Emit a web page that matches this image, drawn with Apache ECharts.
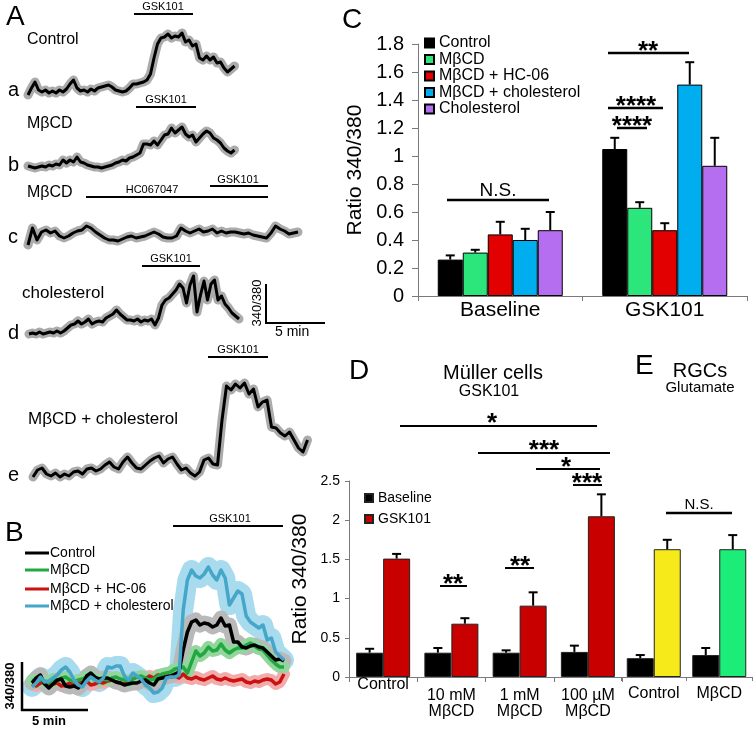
<!DOCTYPE html>
<html><head><meta charset="utf-8">
<script src="https://cdn.jsdelivr.net/npm/echarts@6/dist/echarts.min.js"></script>
<style>html,body{margin:0;padding:0;background:#fff}#c{width:755px;height:732px}</style>
</head><body><div id="c"></div>
<script>
// ---------- Panel A: single-cell traces (ratio 340/380, uniform sampling) ----------
const traceA_control = [0.20,0.27,0.33,0.25,0.23,0.25,0.22,0.24,0.22,0.25,0.23,0.26,0.31,0.35,0.27,0.24,0.25,0.23,0.26,0.24,0.27,0.28,0.29,0.30,0.28,0.25,0.24,0.23,0.24,0.27,0.31,0.31,0.32,0.33,0.35,0.41,0.57,0.71,0.77,0.78,0.81,0.77,0.79,0.78,0.82,0.73,0.75,0.69,0.71,0.57,0.55,0.59,0.55,0.58,0.52,0.53,0.47,0.43,0.46,0.49];
const traceA_mbcd = [0.24,0.23,0.22,0.23,0.24,0.23,0.25,0.24,0.26,0.25,0.30,0.27,0.30,0.28,0.33,0.28,0.27,0.25,0.24,0.23,0.23,0.22,0.23,0.24,0.25,0.27,0.28,0.30,0.29,0.32,0.33,0.35,0.37,0.46,0.46,0.45,0.49,0.45,0.50,0.55,0.56,0.62,0.57,0.60,0.63,0.56,0.53,0.55,0.48,0.52,0.56,0.59,0.57,0.52,0.50,0.47,0.42,0.39,0.37,0.40];
const traceA_mbcdHC = [0.25,0.42,0.30,0.38,0.40,0.37,0.39,0.34,0.32,0.34,0.37,0.39,0.40,0.44,0.42,0.38,0.35,0.32,0.30,0.30,0.29,0.31,0.33,0.34,0.32,0.33,0.34,0.36,0.38,0.36,0.33,0.32,0.32,0.34,0.42,0.39,0.37,0.39,0.41,0.38,0.39,0.41,0.37,0.39,0.37,0.38,0.38,0.37,0.36,0.37,0.35,0.34,0.33,0.32,0.37,0.44,0.41,0.39,0.36,0.37,0.38];
const traceA_chol = [0.26,0.27,0.26,0.28,0.26,0.27,0.28,0.27,0.29,0.27,0.29,0.32,0.35,0.36,0.39,0.36,0.38,0.41,0.36,0.38,0.39,0.38,0.42,0.44,0.46,0.50,0.46,0.43,0.40,0.40,0.39,0.41,0.38,0.40,0.39,0.41,0.35,0.42,0.55,0.60,0.62,0.66,0.70,0.76,0.72,0.57,0.75,0.84,0.48,0.65,0.79,0.60,0.76,0.80,0.60,0.64,0.56,0.52,0.47,0.44,0.41];
const traceA_mbcdChol = [0.23,0.30,0.32,0.26,0.24,0.27,0.23,0.26,0.24,0.28,0.29,0.26,0.31,0.32,0.29,0.31,0.35,0.38,0.33,0.31,0.38,0.43,0.37,0.32,0.31,0.35,0.39,0.42,0.44,0.37,0.41,0.43,0.36,0.30,0.32,0.27,0.24,0.28,0.40,0.42,0.36,0.35,0.80,1.14,1.10,1.16,1.12,1.17,1.06,1.11,0.93,0.98,1.00,0.73,0.72,0.67,0.64,0.68,0.60,0.52,0.48,0.60];

// ---------- Panel B: averaged traces ----------
const traceB_names = ['Control','MβCD','MβCD + HC-06','MβCD + cholesterol'];
const traceB_control = [0.37,0.42,0.45,0.36,0.32,0.36,0.40,0.41,0.34,0.33,0.34,0.32,0.36,0.44,0.47,0.43,0.41,0.42,0.42,0.40,0.38,0.37,0.35,0.36,0.37,0.37,0.39,0.40,0.37,0.35,0.41,0.42,0.43,0.44,0.46,0.48,0.70,0.88,0.98,1.00,0.95,0.97,0.96,0.93,0.95,1.02,0.94,0.95,0.78,0.78,0.73,0.72,0.74,0.75,0.73,0.72,0.68,0.64,0.60,0.61,0.59];
const traceB_mbcd = [0.40,0.38,0.40,0.39,0.37,0.41,0.39,0.42,0.43,0.40,0.38,0.40,0.41,0.43,0.44,0.40,0.39,0.41,0.40,0.42,0.43,0.41,0.40,0.39,0.41,0.43,0.44,0.42,0.40,0.41,0.44,0.46,0.47,0.48,0.51,0.52,0.53,0.47,0.58,0.69,0.64,0.67,0.73,0.69,0.70,0.76,0.70,0.67,0.70,0.72,0.72,0.75,0.77,0.74,0.71,0.70,0.65,0.60,0.56,0.53,0.53];
const traceB_hc = [0.36,0.34,0.37,0.38,0.35,0.36,0.37,0.34,0.35,0.37,0.36,0.38,0.37,0.39,0.35,0.36,0.38,0.37,0.39,0.40,0.38,0.37,0.36,0.39,0.41,0.43,0.42,0.41,0.44,0.42,0.45,0.44,0.45,0.43,0.44,0.42,0.46,0.42,0.41,0.43,0.41,0.40,0.42,0.44,0.41,0.40,0.42,0.40,0.39,0.40,0.41,0.38,0.37,0.39,0.38,0.40,0.41,0.40,0.36,0.38,0.46];
const traceB_chol = [0.33,0.37,0.43,0.38,0.39,0.42,0.45,0.50,0.53,0.48,0.40,0.35,0.33,0.39,0.43,0.40,0.38,0.42,0.53,0.52,0.54,0.54,0.44,0.40,0.47,0.44,0.41,0.35,0.32,0.27,0.28,0.32,0.42,0.43,0.43,0.45,1.10,1.40,1.50,1.44,1.42,1.46,1.53,1.45,1.40,1.50,1.42,1.15,1.22,1.29,1.26,1.04,0.98,0.95,0.92,0.95,0.80,0.82,0.68,0.64,0.60];

// ---------- Panel C ----------
const cCategories = ['Baseline','GSK101'];
const cNames = ['Control','MβCD','MβCD + HC-06','MβCD + cholesterol','Cholesterol'];
const cControl = [0.26,1.05], cControlErr = [0.03,0.08];
const cMbcd = [0.31,0.63], cMbcdErr = [0.02,0.04];
const cMbcdHC = [0.44,0.47], cMbcdHCErr = [0.09,0.05];
const cMbcdChol = [0.40,1.51], cMbcdCholErr = [0.08,0.16];
const cChol = [0.47,0.93], cCholErr = [0.13,0.20];

// ---------- Panel D ----------
const dCategories = ['Control','10 mM\nMβCD','1 mM\nMβCD','100 µM\nMβCD'];
const dNames = ['Baseline','GSK101'];
const dBaseline = [0.31,0.31,0.31,0.32], dBaselineErr = [0.05,0.06,0.03,0.08];
const dGSK = [1.51,0.68,0.91,2.05], dGSKErr = [0.06,0.07,0.17,0.28];

// ---------- Panel E ----------
const eCategories = ['Control','MβCD'];
const eBaseline = [0.24,0.28], eBaselineErr = [0.04,0.09];
const eGlutamate = [1.63,1.63], eGlutamateErr = [0.12,0.18];

const FONT = '"Liberation Sans", Arial, Helvetica, sans-serif';
const grids = [], xAxes = [], yAxes = [], series = [];
function addGrid(g, x, y){
  g.outerBoundsMode = 'none';
  grids.push(g);
  const gi = grids.length - 1;
  xAxes.push(Object.assign({gridIndex: gi}, x));
  yAxes.push(Object.assign({gridIndex: gi}, y));
  return gi;
}
function traceGrid(left, width, top, height, n, ymax){
  return addGrid({left, top, width, height},
    {type:'value', min:0, max:n-1, show:false},
    {type:'value', min:0, max:ymax, show:false});
}
function addBand(gi, name, values, band, bw, z){
  series.push({type:'line', name: name + ' SEM', xAxisIndex:gi, yAxisIndex:gi, data: values.map((v,i)=>[i,v]),
    symbol:'none', clip:false, silent:true, z, lineStyle:{color:band, width:bw, join:'round', cap:'round'}});
}
function addLine(gi, name, values, color, lw, z){
  series.push({type:'line', name, xAxisIndex:gi, yAxisIndex:gi, data: values.map((v,i)=>[i,v]),
    symbol:'none', clip:false, silent:true, z, lineStyle:{color, width:lw, join:'round'}});
}

// Panel A grids
const AGRAY = '#ababab';
[[traceA_control, 28, 206.5, 15, 100, 1],
 [traceA_mbcd, 28, 206.5, 90, 100, 1],
 [traceA_mbcdHC, 28, 270, 170, 100, 1],
 [traceA_chol, 29, 210, 260, 100, 1],
 [traceA_mbcdChol, 33, 274.5, 350, 150, 1.5]].forEach((t, k) => {
  const gi = traceGrid(t[1], t[2], t[3], t[4], t[0].length, t[5]);
  addBand(gi, 'A' + k, t[0], AGRAY, 9, 2);
  addLine(gi, 'A' + k, t[0], '#000', 3, 3);
});

// Panel B grid
const bColors = ['#000000','#22a840','#cc1111','#45a6c9'];
const bBands = ['#b9b9b9','#92d69e','#f2abab','#a8dbee'];
const bData = [traceB_control, traceB_mbcd, traceB_hc, traceB_chol];
const gB = traceGrid(32, 252, 560, 160, traceB_control.length, 1.6);
[3,2,0,1].forEach(k => addBand(gB, 'B ' + traceB_names[k], bData[k], bBands[k], k===3?20:(k===0?15:12), 2));
[2,1,0,3].forEach(k => addLine(gB, 'B ' + traceB_names[k], bData[k], bColors[k], 3.5, 3));

// Bar helpers
const axisCol = '#7a7a7a';
function errSeries(gi, vals, errs, offset, name){
  series.push({type:'custom', name, xAxisIndex:gi, yAxisIndex:gi, z:6, silent:true, clip:false,
    data: vals.map((v,i)=>[i, v, errs[i]]),
    renderItem: (p, api) => {
      const c = api.value(0), v = api.value(1), e = api.value(2);
      const b = api.coord([c, v]), t = api.coord([c, v + e]);
      const x = b[0] + offset;
      return {type:'group', children:[
        {type:'line', shape:{x1:x, y1:b[1], x2:x, y2:t[1]}, style:{stroke:'#000', lineWidth:2}},
        {type:'line', shape:{x1:x-4.5, y1:t[1], x2:x+4.5, y2:t[1]}, style:{stroke:'#000', lineWidth:2}}
      ]};
    }});
}

// Panel C
const gC = addGrid({left:418, top:44, width:329, height:252},
  {type:'category', data:cCategories,
   axisLine:{show:true, lineStyle:{color:axisCol}}, axisTick:{show:true, length:5, lineStyle:{color:axisCol}},
   axisLabel:{fontSize:21, color:'#000', margin:4, fontFamily:FONT, interval:0}},
  {type:'value', min:0, max:1.8, interval:0.2,
   axisLine:{show:true, lineStyle:{color:axisCol}}, axisTick:{show:true, length:6, lineStyle:{color:axisCol}},
   splitLine:{show:false}, axisLabel:{fontSize:20, color:'#000', margin:14, fontFamily:FONT},
   name:'Ratio 340/380', nameLocation:'middle', nameGap:52, nameRotate:90,
   nameTextStyle:{fontSize:21, color:'#000', fontFamily:FONT}});
const cColors = ['#000000','#2ce67c','#e20000','#00aeef','#b56ef0'];
const cVals = [cControl, cMbcd, cMbcdHC, cMbcdChol, cChol];
const cErrs = [cControlErr, cMbcdErr, cMbcdHCErr, cMbcdCholErr, cCholErr];
cVals.forEach((vals, k) => {
  series.push({type:'bar', name:cNames[k], xAxisIndex:gC, yAxisIndex:gC, data:vals, barWidth:25, barGap:'0%', z:4,
    itemStyle:{color:cColors[k], borderColor:'#000', borderWidth:1}});
});
cVals.forEach((vals, k) => errSeries(gC, vals, cErrs[k], (k-2)*25, 'err ' + cNames[k]));

// Panel D
const gD = addGrid({left:349, top:481, width:273, height:196},
  {type:'category', data:dCategories,
   axisLine:{show:true, lineStyle:{color:axisCol}}, axisTick:{show:true, length:5, lineStyle:{color:axisCol}},
   axisLabel:{margin:0, interval:0, color:'#000', fontFamily:FONT,
     formatter: v => v.indexOf('\n') >= 0 ? '{s| }\n{b|' + v.split('\n').join('}\n{b|') + '}' : '{b|' + v + '}',
     rich:{s:{fontSize:1, lineHeight:11}, b:{fontSize:16, lineHeight:16, color:'#000', fontFamily:FONT}}}},
  {type:'value', min:0, max:2.5, interval:0.5,
   axisLine:{show:true, lineStyle:{color:axisCol}}, axisTick:{show:true, length:4, lineStyle:{color:axisCol}},
   splitLine:{show:false}, axisLabel:{fontSize:14, color:'#000', margin:9, fontFamily:FONT},
   name:'Ratio 340/380', nameLocation:'middle', nameGap:38, nameRotate:90,
   nameTextStyle:{fontSize:21, color:'#000', fontFamily:FONT}});
const dColors = ['#000000','#c80000'];
[dBaseline, dGSK].forEach((vals, k) => {
  series.push({type:'bar', name:dNames[k], xAxisIndex:gD, yAxisIndex:gD, data:vals, barWidth:27, barGap:'0%', z:4,
    itemStyle:{color:dColors[k], borderColor:'#222', borderWidth:1}});
});
errSeries(gD, dBaseline, dBaselineErr, -13.5, 'err D baseline');
errSeries(gD, dGSK, dGSKErr, 13.5, 'err D GSK101');

// Panel E
const gE = addGrid({left:621, top:481, width:131, height:196},
  {type:'category', data:eCategories,
   axisLine:{show:true, lineStyle:{color:axisCol}}, axisTick:{show:true, length:4, lineStyle:{color:axisCol}},
   axisLabel:{fontSize:16, color:'#000', margin:9, interval:0, fontFamily:FONT}},
  {type:'value', min:0, max:2.5, show:false});
const eColors = ['#f7ea1b','#1ced78'];
series.push({type:'bar', name:'RGC baseline', xAxisIndex:gE, yAxisIndex:gE, data:eBaseline, barWidth:27, barGap:'0%', z:4,
  itemStyle:{color:'#000', borderColor:'#222', borderWidth:1}});
series.push({type:'bar', name:'RGC glutamate', xAxisIndex:gE, yAxisIndex:gE, barWidth:27, barGap:'0%', z:4,
  data: eGlutamate.map((v,i)=>({value:v, itemStyle:{color:eColors[i]}})),
  itemStyle:{borderColor:'#222', borderWidth:1}});
errSeries(gE, eBaseline, eBaselineErr, -13.5, 'err E baseline');
errSeries(gE, eGlutamate, eGlutamateErr, 13.5, 'err E glutamate');

// ---------- annotations ----------
function T(x, y, text, size, o){
  o = o || {};
  const al = o.align || 'left';
  return {type:'text', x, y, rotation:o.rot || 0, silent:true, z:100,
    style:{text, x:0, y:0, fill:o.color || '#000', font:(o.bold ? 'bold ' : '') + size + 'px ' + FONT,
      align:al, verticalAlign:'middle', textAlign:al, textVerticalAlign:'middle'}};
}
function L(x1, y1, x2, y2, w, c){
  return {type:'line', silent:true, z:100, shape:{x1, y1, x2, y2}, style:{stroke:c || '#000', lineWidth:w || 2}};
}
function stars(cx, cy, s){ return T(cx, cy + 6, s, 26, {align:'center', bold:true}); }
const g = [];
// panel letters
g.push(T(6, 17, 'A', 28), T(5, 533, 'B', 28), T(342, 20, 'C', 28), T(349, 371, 'D', 28), T(635, 366, 'E', 28));
// Panel A labels
g.push(T(27, 40, 'Control', 16), T(8, 90, 'a', 20));
g.push(T(27, 124, 'MβCD', 16), T(8, 165, 'b', 20));
g.push(T(27, 193, 'MβCD', 16), T(8, 237, 'c', 20));
g.push(T(22, 293, 'cholesterol', 17), T(8, 333, 'd', 20));
g.push(T(28, 419, 'MβCD + cholesterol', 17), T(8, 475, 'e', 20));
// drug application bars
g.push(L(134, 14, 193, 14), T(163, 7, 'GSK101', 11, {align:'center'}));
g.push(L(136, 107, 196, 107), T(166, 100, 'GSK101', 11, {align:'center'}));
g.push(L(86, 197, 268, 197), T(152, 190, 'HC067047', 11, {align:'center'}));
g.push(L(210, 186, 268, 186), T(238, 180, 'GSK101', 11, {align:'center'}));
g.push(L(142, 266, 200, 266), T(171, 259, 'GSK101', 11, {align:'center'}));
g.push(L(208, 357, 268, 357), T(238, 350, 'GSK101', 11, {align:'center'}));
// scale bar A
g.push(L(266, 284, 266, 323), L(265, 323, 325, 323), T(257, 303, '340/380', 13, {align:'center', rot:Math.PI/2}), T(275, 332, '5 min', 14));
// Panel B
g.push(L(173, 526, 283, 526), T(230, 519, 'GSK101', 11, {align:'center'}));
traceB_names.forEach((n, k) => {
  const y = [553, 570, 589, 606][k];
  g.push(L(25, y, 49, y, 3, bColors[k]), T(50, y, n, 14));
});
g.push(L(22, 662, 22, 711, 2.5), L(21, 710, 88, 710, 2.5), T(10, 686, '340/380', 13, {align:'center', rot:Math.PI/2, bold:true}), T(49, 721, '5 min', 13, {align:'center', bold:true}));
// Panel C significance
g.push(L(447, 200, 549, 200, 2.5), T(498, 191, 'N.S.', 19, {align:'center'}));
g.push(L(608, 53, 689, 53, 2.5), stars(648, 46, '**'));
g.push(L(608, 108, 663, 108, 2.5), stars(636, 101, '****'));
g.push(L(617, 128, 647, 128, 2.5), stars(632, 121, '****'));
// Panel D / E titles
g.push(T(493, 373, 'Müller cells', 20, {align:'center'}), T(489, 392, 'GSK101', 16, {align:'center'}));
g.push(T(700, 371, 'RGCs', 20, {align:'center'}), T(700, 388, 'Glutamate', 15, {align:'center'}));
// Panel D significance
g.push(L(400, 426, 597, 426, 2), stars(492, 418, '*'));
g.push(L(478, 453, 610, 453, 2), stars(544, 445, '***'));
g.push(L(536, 469, 600, 469, 2), stars(566, 462, '*'));
g.push(L(573, 485, 602, 485, 2), stars(587, 478, '***'));
g.push(L(440, 586, 467, 586, 2), stars(453, 579, '**'));
g.push(L(505, 568, 534, 568, 2), stars(520, 561, '**'));
// Panel E significance
g.push(L(666, 513, 732, 513, 2.5), T(699, 505, 'N.S.', 15, {align:'center'}));

const chart = echarts.init(document.getElementById('c'), null, {renderer:'canvas'});
chart.setOption({
  animation:false,
  backgroundColor:'#fff',
  textStyle:{fontFamily:FONT},
  grid:grids, xAxis:xAxes, yAxis:yAxes, series,
  legend:[
    {data:cNames, orient:'vertical', left:424, top:35, padding:0, itemWidth:9, itemHeight:9, itemGap:0.5, icon:'rect',
     selectedMode:false, textStyle:{fontSize:16, lineHeight:16, color:'#000', fontFamily:FONT}},
    {data:dNames, orient:'vertical', left:364, top:491, padding:0, itemWidth:8, itemHeight:8, itemGap:7, icon:'rect',
     selectedMode:false, textStyle:{fontSize:14, lineHeight:14, color:'#000', fontFamily:FONT}}
  ],
  graphic:{elements:g}
});
</script></body></html>
